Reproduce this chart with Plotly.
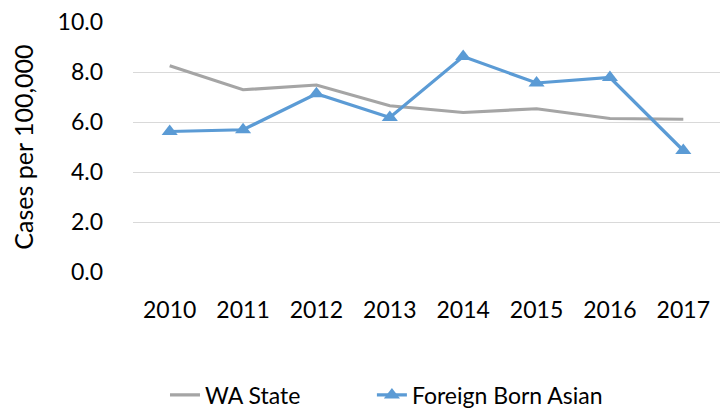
import plotly.graph_objects as go

years = ["2010", "2011", "2012", "2013", "2014", "2015", "2016", "2017"]
wa_state = [8.25, 7.29, 7.48, 6.65, 6.38, 6.53, 6.14, 6.11]
foreign_born_asian = [5.62, 5.69, 7.13, 6.18, 8.62, 7.56, 7.78, 4.86]
y_ticks = [0, 2, 4, 6, 8, 10]

FONT = "Lato"
FS = 23

fig = go.Figure()
fig.add_trace(go.Scatter(
    x=years, y=wa_state, name="WA State", mode="lines",
    line=dict(color="#A5A5A5", width=3.2), legend="legend",
))
fig.add_trace(go.Scatter(
    x=years, y=foreign_born_asian, name="Foreign Born Asian", mode="lines+markers",
    line=dict(color="#5B9BD5", width=3.2),
    marker=dict(symbol="triangle-up", size=14, color="#5B9BD5"), legend="legend2",
))

leg_common = dict(orientation="h", yanchor="middle", y=-0.492, xanchor="left",
                  font=dict(family=FONT, size=FS), bgcolor="rgba(0,0,0,0)")

fig.update_layout(
    width=728, height=409,
    margin=dict(l=125, r=16, t=14, b=145, autoexpand=False),
    paper_bgcolor="white", plot_bgcolor="white",
    font=dict(family=FONT, size=FS, color="#000000"),
    showlegend=True,
    legend=dict(x=0.0545, **leg_common),
    legend2=dict(x=0.407, **leg_common),
    xaxis=dict(type="category", range=[-0.5, 7.5], showgrid=False, zeroline=False,
               showline=False, ticks="", ticklabelstandoff=22, automargin=False,
               ticklabeloverflow="allow",
               tickfont=dict(family=FONT, size=FS)),
    yaxis=dict(range=[0, 10], tickvals=y_ticks, tickformat=".1f",
               showgrid=True, gridcolor="#D9D9D9", gridwidth=1.3, zeroline=False,
               showline=False, ticks="", ticklabelstandoff=29, automargin=False,
               ticklabeloverflow="allow",
               tickfont=dict(family=FONT, size=FS),
               title=dict(text="Cases per 100,000", font=dict(family=FONT, size=25), standoff=45)),
)

fig.write_html("out.html")
